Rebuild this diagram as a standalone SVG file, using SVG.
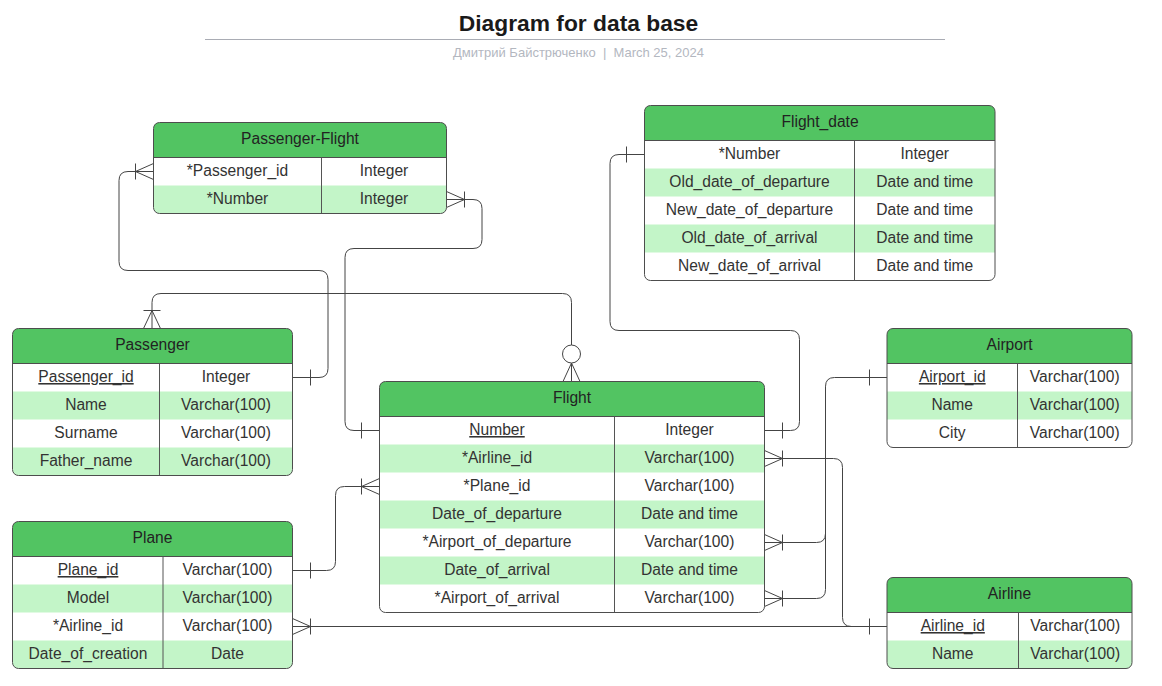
<svg xmlns="http://www.w3.org/2000/svg" width="1162" height="686" viewBox="0 0 1162 686">
<style>
text{font-family:"Liberation Sans",Arial,sans-serif;}
.title{font-size:22.8px;font-weight:bold;fill:#1a1a1a;text-anchor:middle;}
.sub{font-size:13px;fill:#b3b7bf;text-anchor:middle;white-space:pre;}
.h{font-size:15.6px;fill:#222;text-anchor:middle;}
.t{font-size:15.6px;fill:#333;text-anchor:middle;}
.u{text-decoration:underline;}
.hdr{fill:#52c462;}
.lt{fill:#c3f5c8;}
.box{fill:none;stroke:#4d4d4d;stroke-width:1;}
.bg{fill:#fff;}
.sep{stroke:#4d4d4d;stroke-width:1;}
.div{stroke:#555;stroke-width:1;}
.c{fill:none;stroke:#444;stroke-width:1;}
</style>
<defs>
<clipPath id="cpPF"><rect x="153.5" y="122.5" width="293" height="91" rx="6"/></clipPath>
<clipPath id="cpFD"><rect x="644.5" y="105.5" width="350.5" height="175" rx="6"/></clipPath>
<clipPath id="cpP"><rect x="12.5" y="328.5" width="280" height="147" rx="6"/></clipPath>
<clipPath id="cpF"><rect x="379.5" y="381.5" width="385" height="231" rx="6"/></clipPath>
<clipPath id="cpAP"><rect x="887" y="328.5" width="245" height="119" rx="6"/></clipPath>
<clipPath id="cpPL"><rect x="12.5" y="521.5" width="280" height="147" rx="6"/></clipPath>
<clipPath id="cpAL"><rect x="887" y="577.5" width="245" height="91" rx="6"/></clipPath>
</defs>

<g id="title">
<text class="title" x="578.5" y="31">Diagram for data base</text>
<line x1="205" y1="39.5" x2="945" y2="39.5" stroke="#a9acb4" stroke-width="1.2"/>
<text class="sub" x="578.5" y="57" xml:space="preserve">Дмитрий Байстрюченко  |  March 25, 2024</text>
</g>

<g id="connectors">
<!-- Passenger.Passenger_id -> Passenger-Flight.*Passenger_id -->
<path class="c" d="M292.5,377.5 H319 Q328,377.5 328,368.5 V279.5 Q328,270.5 319,270.5 H128 Q119,270.5 119,261.5 V180.5 Q119,171.5 128,171.5 H153.5"/>
<path class="c" d="M310.5,369.5 V385.5 M135.5,163.5 V179.5 M153.5,163.5 L135.5,171.5 L153.5,179.5"/>
<!-- Passenger-Flight.*Number -> Flight.Number -->
<path class="c" d="M446.5,199.5 H473 Q482,199.5 482,208.5 V239.5 Q482,248.5 473,248.5 H354 Q345,248.5 345,257.5 V421.5 Q345,430.5 354,430.5 H379.5"/>
<path class="c" d="M464.5,191.5 V207.5 M446.5,191.5 L464.5,199.5 L446.5,207.5 M361.5,422.5 V438.5"/>
<!-- Passenger -> Flight (top) -->
<path class="c" d="M152,328.5 V302.5 Q152,293.5 161,293.5 H562.5 Q571.5,293.5 571.5,302.5 V345"/>
<path class="c" d="M143.5,310.5 H160.5 M143.5,328.5 L152,310.5 L160.5,328.5"/>
<circle class="c" cx="571.5" cy="354" r="9"/>
<path class="c" d="M571.5,363 V381.5 M563,381.5 L571.5,363 L580,381.5"/>
<!-- Flight_date.*Number -> Flight.Number -->
<path class="c" d="M644.5,154.5 H619 Q610,154.5 610,163.5 V321.5 Q610,330.5 619,330.5 H790.5 Q799.5,330.5 799.5,339.5 V421.5 Q799.5,430.5 790.5,430.5 H764.5"/>
<path class="c" d="M626.5,146.5 V162.5 M782.5,422.5 V438.5"/>
<!-- Flight.*Airline_id -> Airline.Airline_id -->
<path class="c" d="M764.5,458.5 H833.5 Q842.5,458.5 842.5,467.5 V617.5 Q842.5,626.5 851.5,626.5 H887"/>
<path class="c" d="M782.5,450.5 V466.5 M764.5,450.5 L782.5,458.5 L764.5,466.5"/>
<!-- Airport.Airport_id -> Flight.*Airport_of_departure / *Airport_of_arrival -->
<path class="c" d="M887,377.5 H834.5 Q825.5,377.5 825.5,386.5 V533.5 Q825.5,542.5 816.5,542.5 H764.5"/>
<path class="c" d="M825.5,386.5 V589.5 Q825.5,598.5 816.5,598.5 H764.5"/>
<path class="c" d="M869.5,369.5 V385.5"/>
<path class="c" d="M782.5,534.5 V550.5 M764.5,534.5 L782.5,542.5 L764.5,550.5"/>
<path class="c" d="M782.5,590.5 V606.5 M764.5,590.5 L782.5,598.5 L764.5,606.5"/>
<!-- Plane.Plane_id -> Flight.*Plane_id -->
<path class="c" d="M292.5,570.5 H326.5 Q335.5,570.5 335.5,561.5 V495.5 Q335.5,486.5 344.5,486.5 H379.5"/>
<path class="c" d="M310.5,562.5 V578.5 M361.5,478.5 V494.5 M379.5,478.5 L361.5,486.5 L379.5,494.5"/>
<!-- Plane.*Airline_id -> Airline.Airline_id -->
<path class="c" d="M292.5,626.5 H887"/>
<path class="c" d="M310.5,618.5 V634.5 M292.5,618.5 L310.5,626.5 L292.5,634.5 M869.5,618.5 V634.5"/>
</g>

<g id="passenger-flight">
<g clip-path="url(#cpPF)">
<rect class="bg" x="153.5" y="122.5" width="293" height="91"/>
<rect class="hdr" x="153.5" y="122.5" width="293" height="35"/>
<rect class="lt" x="153.5" y="185.5" width="293" height="28"/>
</g>
<line class="sep" x1="153.5" y1="157.5" x2="446.5" y2="157.5"/>
<line class="div" x1="321.5" y1="157.5" x2="321.5" y2="213.5"/>
<rect class="box" x="153.5" y="122.5" width="293" height="91" rx="6"/>
<text class="h" x="300" y="143.5">Passenger-Flight</text>
<text class="t" x="237.5" y="176">*Passenger_id</text><text class="t" x="384" y="176">Integer</text>
<text class="t" x="237.5" y="204">*Number</text><text class="t" x="384" y="204">Integer</text>
</g>

<g id="flight_date">
<g clip-path="url(#cpFD)">
<rect class="bg" x="644.5" y="105.5" width="350.5" height="175"/>
<rect class="hdr" x="644.5" y="105.5" width="350.5" height="35"/>
<rect class="lt" x="644.5" y="168.5" width="350.5" height="28"/>
<rect class="lt" x="644.5" y="224.5" width="350.5" height="28"/>
</g>
<line class="sep" x1="644.5" y1="140.5" x2="995" y2="140.5"/>
<line class="div" x1="854.5" y1="140.5" x2="854.5" y2="280.5"/>
<rect class="box" x="644.5" y="105.5" width="350.5" height="175" rx="6"/>
<text class="h" x="820" y="126.5">Flight_date</text>
<text class="t" x="749.5" y="159">*Number</text><text class="t" x="924.75" y="159">Integer</text>
<text class="t" x="749.5" y="187">Old_date_of_departure</text><text class="t" x="924.75" y="187">Date and time</text>
<text class="t" x="749.5" y="215">New_date_of_departure</text><text class="t" x="924.75" y="215">Date and time</text>
<text class="t" x="749.5" y="243">Old_date_of_arrival</text><text class="t" x="924.75" y="243">Date and time</text>
<text class="t" x="749.5" y="271">New_date_of_arrival</text><text class="t" x="924.75" y="271">Date and time</text>
</g>

<g id="passenger">
<g clip-path="url(#cpP)">
<rect class="bg" x="12.5" y="328.5" width="280" height="147"/>
<rect class="hdr" x="12.5" y="328.5" width="280" height="35"/>
<rect class="lt" x="12.5" y="391.5" width="280" height="28"/>
<rect class="lt" x="12.5" y="447.5" width="280" height="28"/>
</g>
<line class="sep" x1="12.5" y1="363.5" x2="292.5" y2="363.5"/>
<line class="div" x1="159.5" y1="363.5" x2="159.5" y2="475.5"/>
<rect class="box" x="12.5" y="328.5" width="280" height="147" rx="6"/>
<text class="h" x="152.5" y="349.5">Passenger</text>
<text class="t u" x="86" y="382">Passenger_id</text><text class="t" x="226" y="382">Integer</text>
<text class="t" x="86" y="410">Name</text><text class="t" x="226" y="410">Varchar(100)</text>
<text class="t" x="86" y="438">Surname</text><text class="t" x="226" y="438">Varchar(100)</text>
<text class="t" x="86" y="466">Father_name</text><text class="t" x="226" y="466">Varchar(100)</text>
</g>

<g id="flight">
<g clip-path="url(#cpF)">
<rect class="bg" x="379.5" y="381.5" width="385" height="231"/>
<rect class="hdr" x="379.5" y="381.5" width="385" height="35"/>
<rect class="lt" x="379.5" y="444.5" width="385" height="28"/>
<rect class="lt" x="379.5" y="500.5" width="385" height="28"/>
<rect class="lt" x="379.5" y="556.5" width="385" height="28"/>
</g>
<line class="sep" x1="379.5" y1="416.5" x2="764.5" y2="416.5"/>
<line class="div" x1="614.5" y1="416.5" x2="614.5" y2="612.5"/>
<rect class="box" x="379.5" y="381.5" width="385" height="231" rx="6"/>
<text class="h" x="572" y="402.5">Flight</text>
<text class="t u" x="497" y="435">Number</text><text class="t" x="689.5" y="435">Integer</text>
<text class="t" x="497" y="463">*Airline_id</text><text class="t" x="689.5" y="463">Varchar(100)</text>
<text class="t" x="497" y="491">*Plane_id</text><text class="t" x="689.5" y="491">Varchar(100)</text>
<text class="t" x="497" y="519">Date_of_departure</text><text class="t" x="689.5" y="519">Date and time</text>
<text class="t" x="497" y="547">*Airport_of_departure</text><text class="t" x="689.5" y="547">Varchar(100)</text>
<text class="t" x="497" y="575">Date_of_arrival</text><text class="t" x="689.5" y="575">Date and time</text>
<text class="t" x="497" y="603">*Airport_of_arrival</text><text class="t" x="689.5" y="603">Varchar(100)</text>
</g>

<g id="airport">
<g clip-path="url(#cpAP)">
<rect class="bg" x="887" y="328.5" width="245" height="119"/>
<rect class="hdr" x="887" y="328.5" width="245" height="35"/>
<rect class="lt" x="887" y="391.5" width="245" height="28"/>
</g>
<line class="sep" x1="887" y1="363.5" x2="1132" y2="363.5"/>
<line class="div" x1="1017.5" y1="363.5" x2="1017.5" y2="447.5"/>
<rect class="box" x="887" y="328.5" width="245" height="119" rx="6"/>
<text class="h" x="1009.5" y="349.5">Airport</text>
<text class="t u" x="952.25" y="382">Airport_id</text><text class="t" x="1074.75" y="382">Varchar(100)</text>
<text class="t" x="952.25" y="410">Name</text><text class="t" x="1074.75" y="410">Varchar(100)</text>
<text class="t" x="952.25" y="438">City</text><text class="t" x="1074.75" y="438">Varchar(100)</text>
</g>

<g id="plane">
<g clip-path="url(#cpPL)">
<rect class="bg" x="12.5" y="521.5" width="280" height="147"/>
<rect class="hdr" x="12.5" y="521.5" width="280" height="35"/>
<rect class="lt" x="12.5" y="584.5" width="280" height="28"/>
<rect class="lt" x="12.5" y="640.5" width="280" height="28"/>
</g>
<line class="sep" x1="12.5" y1="556.5" x2="292.5" y2="556.5"/>
<line class="div" x1="163" y1="556.5" x2="163" y2="668.5"/>
<rect class="box" x="12.5" y="521.5" width="280" height="147" rx="6"/>
<text class="h" x="152.5" y="542.5">Plane</text>
<text class="t u" x="88" y="575">Plane_id</text><text class="t" x="227.5" y="575">Varchar(100)</text>
<text class="t" x="88" y="603">Model</text><text class="t" x="227.5" y="603">Varchar(100)</text>
<text class="t" x="88" y="631">*Airline_id</text><text class="t" x="227.5" y="631">Varchar(100)</text>
<text class="t" x="88" y="659">Date_of_creation</text><text class="t" x="227.5" y="659">Date</text>
</g>

<g id="airline">
<g clip-path="url(#cpAL)">
<rect class="bg" x="887" y="577.5" width="245" height="91"/>
<rect class="hdr" x="887" y="577.5" width="245" height="35"/>
<rect class="lt" x="887" y="640.5" width="245" height="28"/>
</g>
<line class="sep" x1="887" y1="612.5" x2="1132" y2="612.5"/>
<line class="div" x1="1018.5" y1="612.5" x2="1018.5" y2="668.5"/>
<rect class="box" x="887" y="577.5" width="245" height="91" rx="6"/>
<text class="h" x="1009.5" y="598.5">Airline</text>
<text class="t u" x="952.75" y="631">Airline_id</text><text class="t" x="1075.25" y="631">Varchar(100)</text>
<text class="t" x="952.75" y="659">Name</text><text class="t" x="1075.25" y="659">Varchar(100)</text>
</g>
</svg>
